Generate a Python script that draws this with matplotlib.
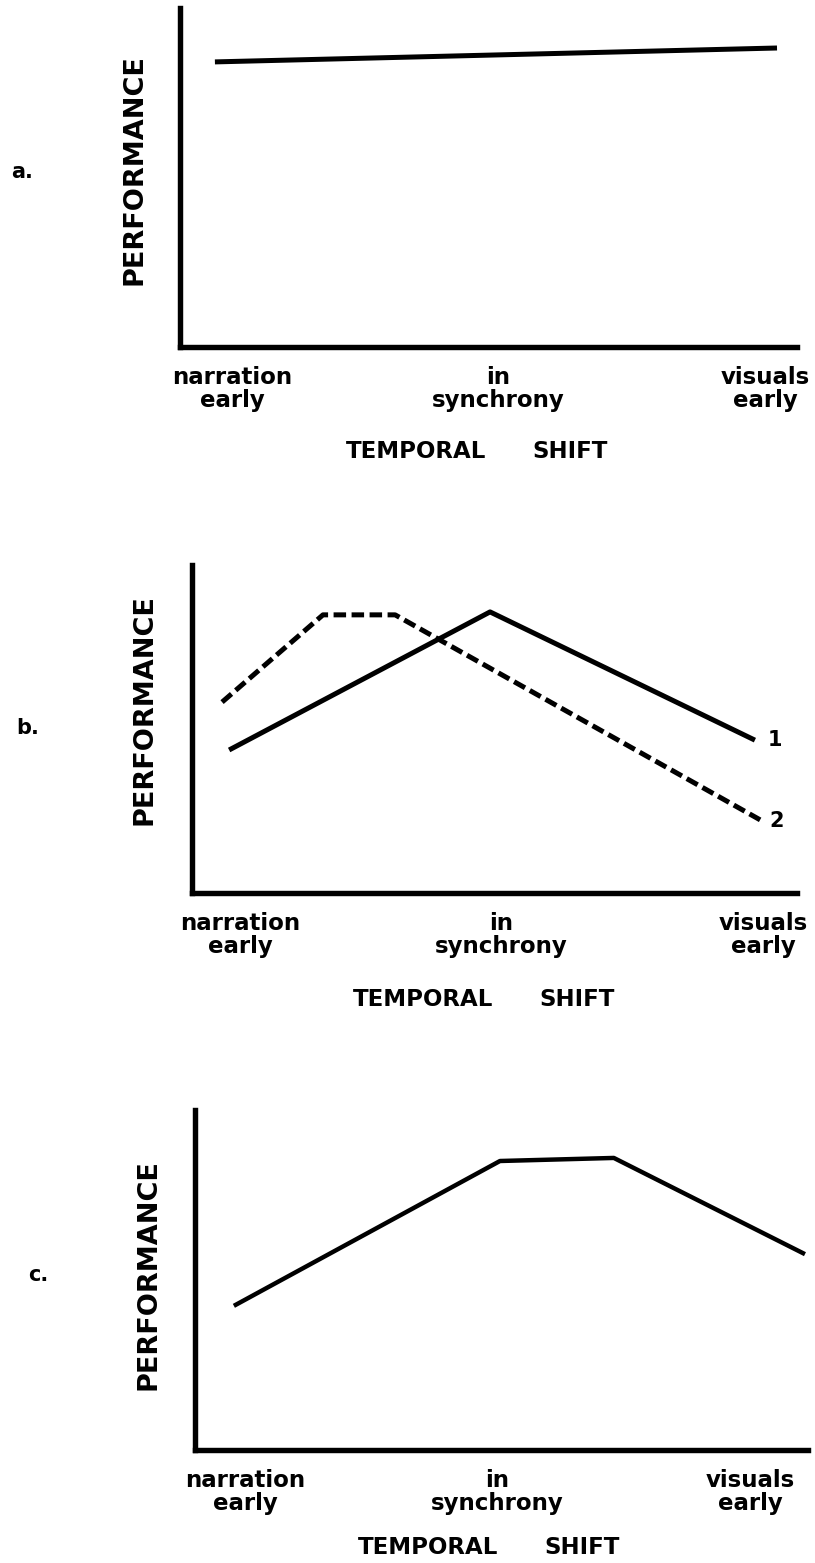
import matplotlib
matplotlib.use("Agg")
import matplotlib.pyplot as plt

plt.rcParams['font.family'] = ['DejaVu Sans']

# ---- data (x: temporal shift, -1 = narration early, 0 = in synchrony, 1 = visuals early; y: performance 0-10) ----
tick_pos = [-1, 0, 1]
tick_labels = ["narration\nearly", "in\nsynchrony", "visuals\nearly"]
panel_letters = ["a.", "b.", "c."]

a_x = [-1.064, 1.045]
a_y = [8.41, 8.82]

b1_x = [-1.042, -0.044, 0.969]
b1_y = [4.36, 8.57, 4.66]
b2_x = [-1.069, -0.683, -0.407, 0.989]
b2_y = [5.82, 8.48, 8.48, 2.23]
b_series_labels = ["1", "2"]

c_x = [-1.044, 0.010, 0.461, 1.218]
c_y = [4.24, 8.50, 8.59, 5.76]

W, H = 815, 1563
fig = plt.figure(figsize=(W / 100, H / 100), dpi=100)

def px_axes(left, top, right, bottom):
    return fig.add_axes([left / W, 1 - bottom / H, (right - left) / W, (bottom - top) / H])

def style(ax, xlim):
    ax.set_xlim(*xlim)
    ax.set_ylim(0, 10)
    for s in ("top", "right"):
        ax.spines[s].set_visible(False)
    for s in ("left", "bottom"):
        ax.spines[s].set_linewidth(3.9)
        ax.spines[s].set_capstyle("projecting")
    ax.set_yticks([])
    ax.set_xticks(tick_pos)
    ax.set_xticklabels(tick_labels, fontsize=16.5, fontweight="bold",
                       linespacing=1.0, multialignment="center")
    ax.tick_params(axis="x", length=0, pad=14)
    ax.patch.set_alpha(0)

def ftext(x, y, s, **kw):
    fig.text(x / W, 1 - y / H, s, ha="center", va="center", fontweight="bold", **kw)

# panel a
axa = px_axes(180, 8, 797, 347)
style(axa, (-1.195, 1.12))
axa.plot(a_x, a_y, color="black", lw=3.6, solid_capstyle="butt")

# panel b
axb = px_axes(192, 565, 797, 893)
style(axb, (-1.184, 1.13))
axb.plot(b1_x, b1_y, color="black", lw=3.6, solid_capstyle="butt")
axb.plot(b2_x, b2_y, color="black", lw=3.6, dashes=(2.5, 1.1), dash_capstyle="butt")
axb.annotate(b_series_labels[0], (b1_x[-1], b1_y[-1]), xytext=(9, 0), textcoords="offset points",
             ha="left", va="center", fontsize=15, fontweight="bold")
axb.annotate(b_series_labels[1], (b2_x[-1], b2_y[-1]), xytext=(7, -1), textcoords="offset points",
             ha="left", va="center", fontsize=15, fontweight="bold")

# panel c
axc = px_axes(195, 1110, 808, 1450)
style(axc, (-1.198, 1.23))
axc.plot(c_x, c_y, color="black", lw=3.2, solid_capstyle="butt")

# axis titles
for (yc, xperf, xt, xs, yts) in [
    (170, 135, 416, 570, 451),
    (710, 145, 423, 577, 1000),
    (1275, 149, 428, 582, 1547),
]:
    ftext(xperf, yc, "PERFORMANCE", rotation=90, fontsize=19.5)
    ftext(xt, yts, "TEMPORAL", fontsize=16.5)
    ftext(xs, yts, "SHIFT", fontsize=16.5)

# panel letters
for (xl, yl), letter in zip([(22, 172), (28, 728), (38, 1275)], panel_letters):
    ftext(xl, yl, letter, fontsize=15)

fig.savefig("out.png", dpi=100, facecolor="white")
